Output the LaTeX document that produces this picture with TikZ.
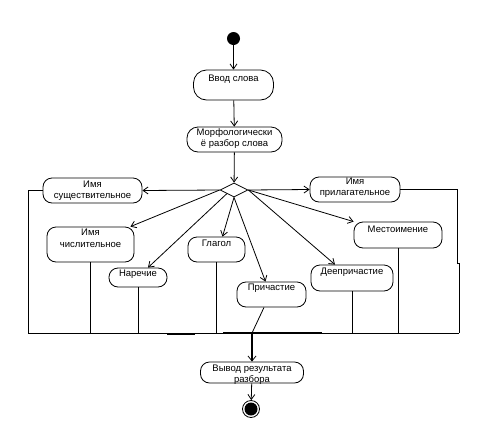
\documentclass[tikz,border=0pt]{standalone}
\usepackage{fontspec}
\setmainfont{Liberation Sans}
\usetikzlibrary{shapes.geometric,arrows.meta}
\begin{document}
\begin{tikzpicture}[x=1pt,y=-1pt,line width=0.8pt,
  box/.style={draw, rounded corners=9pt, inner sep=0pt},
  lab/.style={font=\fontsize{9.5}{11.5}\selectfont, align=center, inner sep=0pt},
  arr/.style={-{Straight Barb[length=5pt,width=7pt]}},
  thickarr/.style={line width=2.6pt,-{Straight Barb[length=5pt,width=8pt,line width=0.8pt]}},
  ]
\useasboundingbox (0,0) rectangle (485,445);
% start / end
\node[circle, fill, minimum size=13pt, inner sep=0pt] (start) at (233.5,38.5) {};
\node[circle, draw, minimum size=17pt, inner sep=0pt] (endn) at (251,409) {};
\fill (endn.center) circle (6.5pt);
% activities
\node[box, rounded corners=13pt, minimum width=80pt, minimum height=30pt,
  label={[lab,yshift=6pt]center:Ввод слова}] (vvod) at (233.5,85) {};
\node[box, rounded corners=11pt, minimum width=95pt, minimum height=25pt,
  label={[lab,yshift=1pt]center:{Морфологически\\ё разбор слова}}] (morph) at (234.5,139.5) {};
\node[diamond, draw, aspect=2, minimum width=28pt, minimum height=14pt, inner sep=0pt] (d) at (234,190) {};
\node[box, minimum width=99pt, minimum height=25pt,
  label={[lab]center:{Имя\\существительное}}] (sush) at (92.5,190.5) {};
\node[box, minimum width=90pt, minimum height=25pt,
  label={[lab,yshift=2pt]center:{Имя\\прилагательное}}] (pril) at (355,189.5) {};
\node[box, minimum width=87pt, minimum height=35pt,
  label={[lab,yshift=6pt]center:{Имя\\числительное}}] (chisl) at (90.5,244.5) {};
\node[box, minimum width=58pt, minimum height=19pt,
  label={[lab,yshift=3pt]center:Наречие}] (narech) at (138,277.5) {};
\node[box, minimum width=57pt, minimum height=25pt,
  label={[lab,yshift=6pt]center:Глагол}] (glagol) at (216.5,249.5) {};
\node[box, minimum width=69pt, minimum height=25pt,
  label={[lab,yshift=6pt]center:Причастие}] (prich) at (271.5,294.5) {};
\node[box, minimum width=82pt, minimum height=26pt,
  label={[lab,yshift=6pt]center:Деепричастие}] (deepr) at (352,278) {};
\node[box, minimum width=88pt, minimum height=26pt,
  label={[lab,yshift=6pt]center:Местоимение}] (mest) at (398,235) {};
\node[box, minimum width=103pt, minimum height=21pt,
  label={[lab,yshift=-2pt]center:{Вывод результата\\разбора}}] (vyvod) at (252,372.5) {};
% flow arrows
\draw[arr] (start) -- (vvod);
\draw[arr] (vvod) -- (morph);
\draw[arr] (morph) -- (d);
\draw[arr] (d.west) -- (sush.east);
\draw[arr] (d.east) -- (pril.west);
\draw[arr] (d.west) -- ([xshift=-4pt]chisl.north east);
\draw[arr] (d.south west) -- ([xshift=10pt]narech.north);
\draw[arr] (d.south) -- ([xshift=6pt]glagol.north);
\draw[arr] (d.south) -- ([xshift=-6pt]prich.north);
\draw[arr] (d.east) -- ([xshift=-17pt]deepr.north);
\draw[arr] (d.east) -- (mest.north west);
% joining lines
\coordinate (bl) at (28,333);
\coordinate (br) at (459,333);
\coordinate (rk) at (457,263);
\coordinate (jn) at (252,333);
\coordinate (tb1) at (223,333);
\coordinate (tb2) at (322,333);
\coordinate (tc1) at (167,334);
\coordinate (tc2) at (195,334);
\draw (sush.west) -- (sush.west -| bl) -- (bl) -- (br);
\draw (pril.east) -- (pril.east -| rk) -- (rk) -- ++(2,0) -- (br);
\draw (chisl.south) -- (chisl.south |- bl);
\draw (narech.south) -- (narech.south |- bl);
\draw (glagol.south) -- (glagol.south |- bl);
\draw (deepr.south) -- (deepr.south |- bl);
\draw (mest.south) -- (mest.south |- bl);
\draw ([xshift=-7.5pt]prich.south) -- (jn);
\draw[line width=2.6pt] (tb1) -- (tb2);
\draw[line width=1.8pt] (tc1) -- (tc2);
\draw[thickarr] (jn) -- (jn |- vyvod.north);
\draw[arr] (vyvod) -- (endn);
\end{tikzpicture}
\end{document}
